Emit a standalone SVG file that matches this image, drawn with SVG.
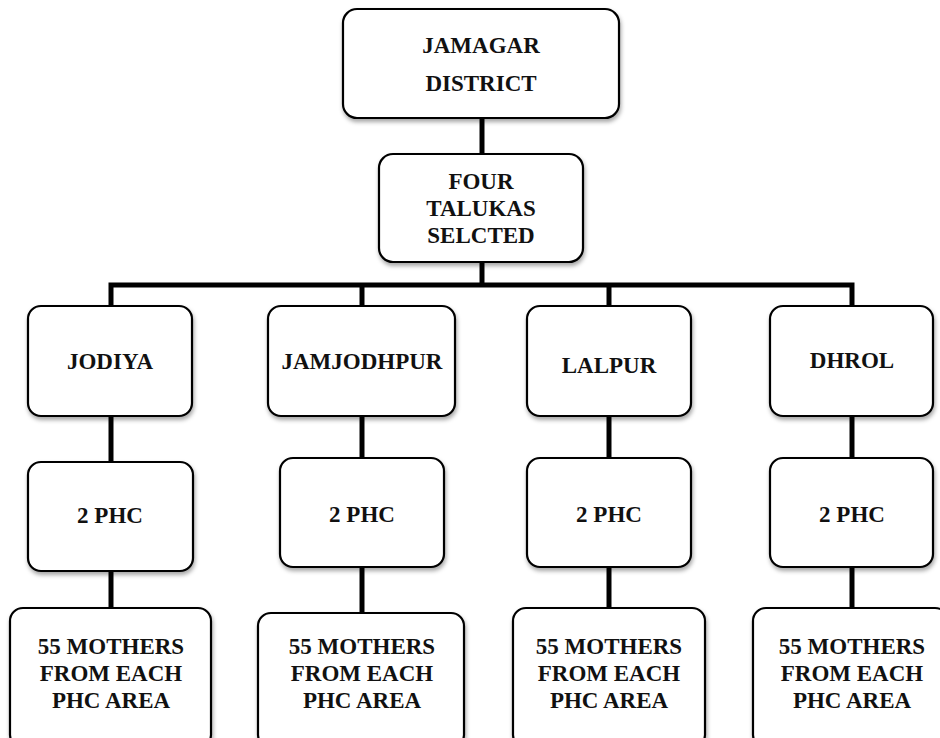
<svg xmlns="http://www.w3.org/2000/svg" width="940" height="738" viewBox="0 0 940 738">
<defs>
<filter id="sh" x="-10%" y="-10%" width="120%" height="130%">
<feDropShadow dx="1" dy="3" stdDeviation="2" flood-color="#000" flood-opacity="0.35"/>
</filter>
</defs>
<style>
.box{fill:#fff;stroke:#000;stroke-width:2.2;filter:url(#sh)}
.t{font-family:"Liberation Serif","Times New Roman",serif;font-weight:bold;font-size:23px;fill:#111;text-anchor:middle}
.c{stroke:#000;stroke-width:5;fill:none}
</style>
<rect width="940" height="738" fill="#fff"/>
<g id="connectors">
<line class="c" x1="482" y1="118" x2="482" y2="155"/>
<line class="c" x1="482" y1="262" x2="482" y2="285"/>
<polyline class="c" points="111,306 111,285 852,285 852,306"/>
<line class="c" x1="362" y1="285" x2="362" y2="306"/>
<line class="c" x1="609" y1="285" x2="609" y2="306"/>
<line class="c" x1="111" y1="416" x2="111" y2="462"/>
<line class="c" x1="111" y1="571" x2="111" y2="608"/>
<line class="c" x1="362" y1="416" x2="362" y2="458"/>
<line class="c" x1="362" y1="567" x2="362" y2="613"/>
<line class="c" x1="609" y1="416" x2="609" y2="458"/>
<line class="c" x1="609" y1="567" x2="609" y2="608"/>
<line class="c" x1="852" y1="416" x2="852" y2="458"/>
<line class="c" x1="852" y1="567" x2="852" y2="608"/>
</g>
<g id="district"><rect class="box" x="343" y="9" width="276" height="109" rx="14"/>
<text class="t" x="481" y="53">JAMAGAR</text>
<text class="t" x="481" y="91">DISTRICT</text></g>
<g id="talukas"><rect class="box" x="379" y="154" width="204" height="108" rx="14"/>
<text class="t" x="481" y="189">FOUR</text>
<text class="t" x="481" y="216">TALUKAS</text>
<text class="t" x="481" y="243">SELCTED</text></g>
<g id="jodiya"><rect class="box" x="28" y="306" width="164" height="110" rx="13"/>
<text class="t" x="110" y="369">JODIYA</text></g>
<g id="jamjodhpur"><rect class="box" x="268" y="306" width="187" height="110" rx="13"/>
<text class="t" x="362" y="369">JAMJODHPUR</text></g>
<g id="lalpur"><rect class="box" x="527" y="306" width="164" height="110" rx="13"/>
<text class="t" x="609" y="373">LALPUR</text></g>
<g id="dhrol"><rect class="box" x="770" y="306" width="163" height="110" rx="13"/>
<text class="t" x="852" y="368">DHROL</text></g>
<g id="phc1"><rect class="box" x="28" y="462" width="165" height="109" rx="13"/>
<text class="t" x="110" y="523">2 PHC</text></g>
<g id="phc2"><rect class="box" x="280" y="458" width="164" height="109" rx="13"/>
<text class="t" x="362" y="522">2 PHC</text></g>
<g id="phc3"><rect class="box" x="527" y="458" width="164" height="109" rx="13"/>
<text class="t" x="609" y="522">2 PHC</text></g>
<g id="phc4"><rect class="box" x="770" y="458" width="163" height="109" rx="13"/>
<text class="t" x="852" y="522">2 PHC</text></g>
<g id="mothers1"><rect class="box" x="10" y="608" width="201" height="140" rx="13"/>
<text class="t" x="111" y="654">55 MOTHERS</text>
<text class="t" x="111" y="681">FROM EACH</text>
<text class="t" x="111" y="708">PHC AREA</text></g>
<g id="mothers2"><rect class="box" x="258" y="613" width="206" height="135" rx="13"/>
<text class="t" x="362" y="654">55 MOTHERS</text>
<text class="t" x="362" y="681">FROM EACH</text>
<text class="t" x="362" y="708">PHC AREA</text></g>
<g id="mothers3"><rect class="box" x="513" y="608" width="192" height="140" rx="13"/>
<text class="t" x="609" y="654">55 MOTHERS</text>
<text class="t" x="609" y="681">FROM EACH</text>
<text class="t" x="609" y="708">PHC AREA</text></g>
<g id="mothers4"><rect class="box" x="753" y="608" width="195" height="140" rx="13"/>
<text class="t" x="852" y="654">55 MOTHERS</text>
<text class="t" x="852" y="681">FROM EACH</text>
<text class="t" x="852" y="708">PHC AREA</text></g>
</svg>
